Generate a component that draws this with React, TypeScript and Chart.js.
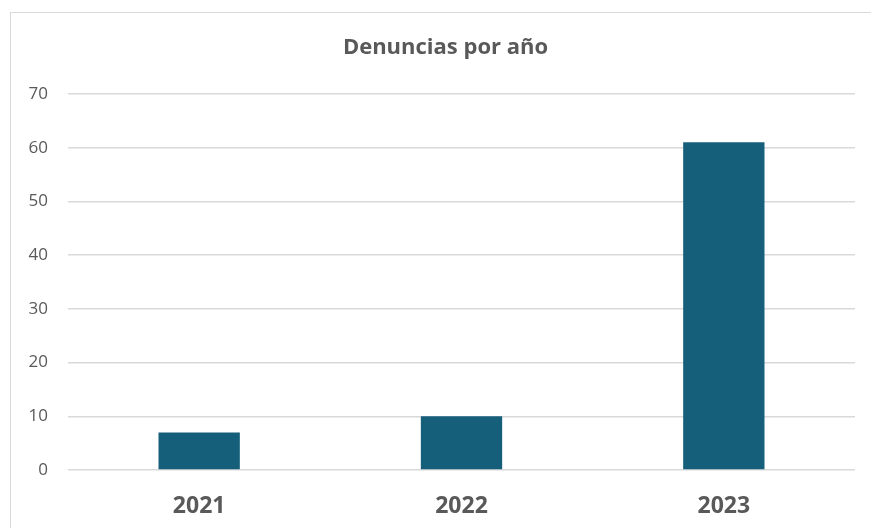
import React, { useEffect, useRef } from "react";
import { Chart, registerables } from "chart.js";

Chart.register(...registerables);

const categories = ["2021", "2022", "2023"];
const denuncias = [7, 10, 61];
const chartTitle = "Denuncias por año";

const boxTitlePlugin = {
  id: "boxTitle",
  afterDraw(chart: any) {
    const ctx = chart.ctx;
    ctx.save();
    ctx.fillStyle = "#595959";
    ctx.font = "bold 22px 'Open Sans', sans-serif";
    ctx.textAlign = "center";
    ctx.textBaseline = "middle";
    // centered within the outlined chart box (which starts 10px from the left)
    ctx.fillText(chartTitle, chart.width / 2 + 10, 48);
    ctx.restore();
  },
};

export default function App() {
  const canvasRef = useRef<HTMLCanvasElement | null>(null);

  useEffect(() => {
    if (!canvasRef.current) return;
    const chart = new Chart(canvasRef.current, {
      type: "bar",
      data: {
        labels: categories,
        datasets: [
          {
            label: "Denuncias",
            data: denuncias,
            backgroundColor: "#165F7B",
            borderWidth: 0,
            categoryPercentage: 1,
            barPercentage: 0.31,
          },
        ],
      },
      options: {
        animation: false,
        responsive: false,
        maintainAspectRatio: false,
        layout: { padding: { left: 0, right: 16, top: 94, bottom: 0 } },
        plugins: {
          legend: { display: false },
          tooltip: { enabled: false },
          title: { display: false },
        },
        scales: {
          x: {
            grid: { display: false },
            border: { display: false },
            ticks: {
              color: "#595959",
              font: { family: "'Open Sans', sans-serif", size: 23, weight: "bold" },
              padding: 15,
            },
            afterFit: (s: any) => {
              s.height = 58;
            },
          },
          y: {
            min: 0,
            max: 70,
            border: { display: false },
            grid: { color: "#d9d9d9", lineWidth: 1.5, drawTicks: false },
            ticks: {
              stepSize: 10,
              color: "#595959",
              font: { family: "'Open Sans', sans-serif", size: 17 },
              padding: 20,
            },
            afterFit: (s: any) => {
              s.width = 68;
            },
          },
        },
      },
      plugins: [boxTitlePlugin],
    });
    return () => chart.destroy();
  }, []);

  return (
    <div
      style={{
        position: "fixed",
        left: 0,
        top: 0,
        width: 871,
        height: 528,
        background: "#ffffff",
        overflow: "hidden",
      }}
    >
      <div
        style={{
          position: "absolute",
          left: 10,
          top: 12,
          width: 900,
          height: 600,
          border: "1px solid #d9d9d9",
          boxSizing: "border-box",
        }}
      />
      <canvas
        ref={canvasRef}
        width={871}
        height={528}
        style={{ position: "absolute", left: 0, top: 0, width: 871, height: 528 }}
      />
    </div>
  );
}
